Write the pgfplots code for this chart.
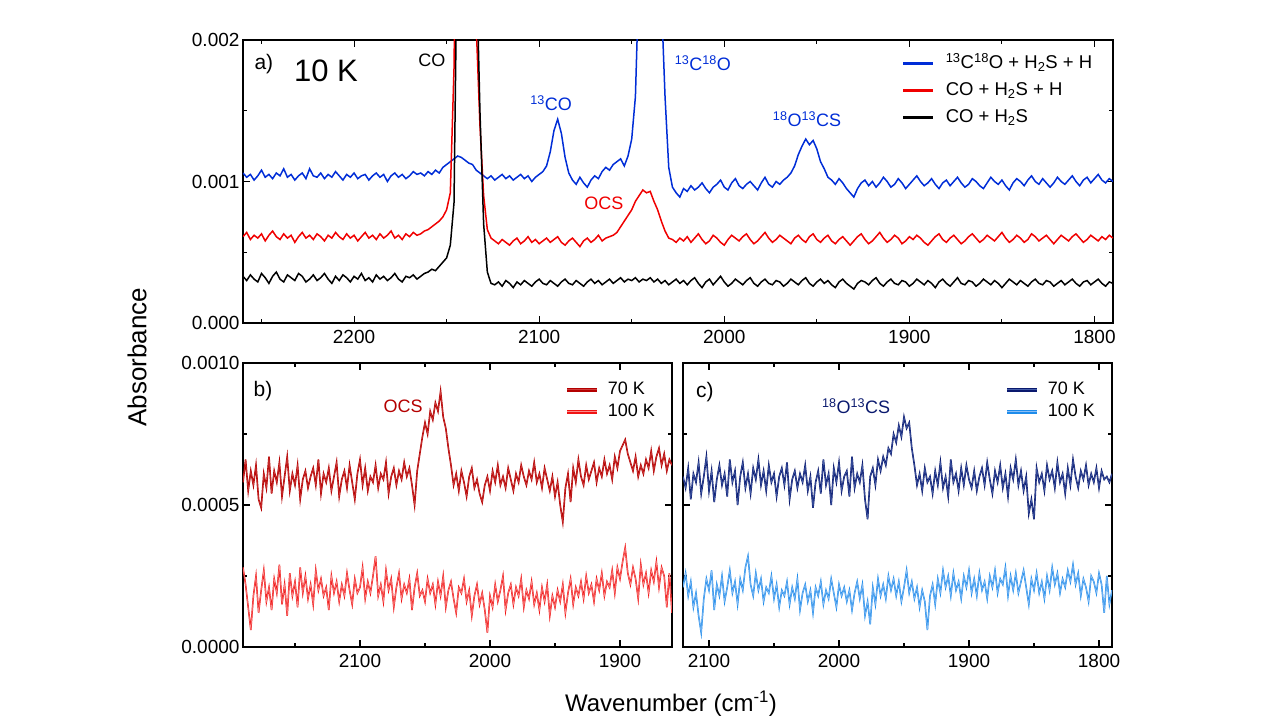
\documentclass[border=0pt]{standalone}
\usepackage{fontspec}
\setmainfont{Liberation Sans}
\usepackage{pgfplots}
\usepackage{pgfplotstable}
\pgfplotsset{compat=1.18}
\definecolor{cblue}{RGB}{0,45,215}
\definecolor{cred}{RGB}{240,0,0}
\definecolor{dred}{RGB}{180,0,0}
\definecolor{dredin}{RGB}{205,60,60}
\definecolor{lred}{RGB}{240,20,20}
\definecolor{lredin}{RGB}{250,140,140}
\definecolor{navy}{RGB}{10,25,110}
\definecolor{navyin}{RGB}{70,95,170}
\definecolor{lblue}{RGB}{30,140,235}
\definecolor{lbluein}{RGB}{140,190,245}

\pgfplotstableread{
x k r b
2260 0.00033 0.00061 0.00106
2258 0.00030 0.00064 0.00103
2256 0.00034 0.00059 0.00105
2254 0.00031 0.00062 0.00101
2252 0.00029 0.00060 0.00104
2250 0.00035 0.00063 0.00108
2248 0.00032 0.00058 0.00103
2246 0.00028 0.00062 0.00105
2244 0.00033 0.00065 0.00102
2242 0.00036 0.00061 0.00106
2240 0.00031 0.00059 0.00104
2238 0.00029 0.00063 0.00109
2236 0.00034 0.00060 0.00103
2234 0.00032 0.00062 0.00105
2232 0.00030 0.00057 0.00101
2230 0.00035 0.00061 0.00104
2228 0.00033 0.00064 0.00106
2226 0.00029 0.00060 0.00102
2224 0.00031 0.00062 0.00109
2222 0.00034 0.00059 0.00104
2220 0.00030 0.00063 0.00103
2218 0.00032 0.00061 0.00106
2216 0.00035 0.00058 0.00102
2214 0.00031 0.00062 0.00105
2212 0.00028 0.00060 0.00103
2210 0.00033 0.00064 0.00107
2208 0.00030 0.00061 0.00104
2206 0.00034 0.00059 0.00101
2204 0.00032 0.00063 0.00105
2202 0.00029 0.00060 0.00103
2200 0.00033 0.00062 0.00106
2198 0.00031 0.00058 0.00102
2196 0.00035 0.00061 0.00104
2194 0.00030 0.00064 0.00105
2192 0.00032 0.00060 0.00101
2190 0.00029 0.00062 0.00104
2188 0.00034 0.00059 0.00106
2186 0.00031 0.00063 0.00103
2184 0.00033 0.00060 0.00105
2182 0.00030 0.00062 0.00100
2180 0.00032 0.00065 0.00104
2178 0.00035 0.00060 0.00106
2176 0.00031 0.00062 0.00103
2174 0.00029 0.00059 0.00105
2172 0.00033 0.00063 0.00102
2170 0.00032 0.00061 0.00104
2168 0.00034 0.00064 0.00107
2166 0.00031 0.00062 0.00105
2164 0.00033 0.00063 0.00106
2162 0.00035 0.00065 0.00104
2160 0.00036 0.00066 0.00107
2158 0.00038 0.00068 0.00105
2156 0.00037 0.00070 0.00108
2154 0.00040 0.00072 0.00106
2152 0.00043 0.00075 0.00110
2150 0.00046 0.00080 0.00112
2148 0.00055 0.00092 0.00114
2146 0.00085 0.00180 0.00116
2144 0.00300 0.00400 0.00118
2142 0.00400 0.00400 0.00117
2140 0.00400 0.00400 0.00115
2138 0.00400 0.00400 0.00113
2136 0.00400 0.00380 0.00112
2134 0.00260 0.00210 0.00108
2132 0.00150 0.00140 0.00106
2130 0.00070 0.00090 0.00104
2128 0.00036 0.00066 0.00102
2126 0.00028 0.00060 0.00104
2124 0.00027 0.00058 0.00101
2122 0.00029 0.00056 0.00103
2120 0.00026 0.00059 0.00105
2118 0.00030 0.00057 0.00102
2116 0.00028 0.00055 0.00104
2114 0.00025 0.00058 0.00101
2112 0.00029 0.00060 0.00103
2110 0.00027 0.00056 0.00105
2108 0.00030 0.00058 0.00102
2106 0.00028 0.00061 0.00104
2104 0.00026 0.00057 0.00100
2102 0.00029 0.00059 0.00103
2100 0.00031 0.00056 0.00105
2098 0.00028 0.00058 0.00107
2096 0.00027 0.00060 0.00111
2094 0.00030 0.00057 0.00121
2092 0.00028 0.00059 0.00136
2090 0.00026 0.00061 0.00144
2088 0.00029 0.00057 0.00134
2086 0.00031 0.00055 0.00117
2084 0.00028 0.00058 0.00106
2082 0.00027 0.00060 0.00101
2080 0.00030 0.00057 0.00098
2078 0.00028 0.00054 0.00103
2076 0.00026 0.00058 0.00099
2074 0.00029 0.00060 0.00096
2072 0.00031 0.00057 0.00101
2070 0.00028 0.00059 0.00104
2068 0.00030 0.00062 0.00102
2066 0.00027 0.00058 0.00107
2064 0.00029 0.00060 0.00110
2062 0.00031 0.00061 0.00108
2060 0.00028 0.00062 0.00112
2058 0.00030 0.00064 0.00114
2056 0.00032 0.00068 0.00116
2054 0.00029 0.00072 0.00111
2052 0.00031 0.00076 0.00118
2050 0.00030 0.00080 0.00130
2048 0.00032 0.00086 0.00160
2046 0.00029 0.00090 0.00250
2044 0.00031 0.00094 0.00400
2042 0.00030 0.00092 0.00400
2040 0.00032 0.00093 0.00400
2038 0.00029 0.00086 0.00400
2036 0.00031 0.00080 0.00350
2034 0.00028 0.00072 0.00230
2032 0.00030 0.00065 0.00160
2030 0.00027 0.00060 0.00110
2028 0.00029 0.00059 0.00096
2026 0.00031 0.00057 0.00092
2024 0.00028 0.00060 0.00089
2022 0.00030 0.00058 0.00095
2020 0.00027 0.00061 0.00093
2018 0.00030 0.00057 0.00097
2016 0.00032 0.00060 0.00094
2014 0.00028 0.00063 0.00096
2012 0.00025 0.00059 0.00099
2010 0.00029 0.00056 0.00095
2008 0.00031 0.00058 0.00092
2006 0.00027 0.00062 0.00096
2004 0.00030 0.00060 0.00098
2002 0.00033 0.00057 0.00101
2000 0.00029 0.00055 0.00096
1998 0.00026 0.00059 0.00094
1996 0.00028 0.00062 0.00099
1994 0.00031 0.00060 0.00102
1992 0.00029 0.00058 0.00097
1990 0.00027 0.00061 0.00095
1988 0.00030 0.00063 0.00098
1986 0.00032 0.00059 0.00100
1984 0.00028 0.00056 0.00097
1982 0.00026 0.00058 0.00094
1980 0.00029 0.00061 0.00099
1978 0.00031 0.00064 0.00103
1976 0.00028 0.00060 0.00098
1974 0.00027 0.00057 0.00096
1972 0.00030 0.00059 0.00100
1970 0.00029 0.00062 0.00098
1968 0.00026 0.00060 0.00101
1966 0.00028 0.00058 0.00103
1964 0.00031 0.00056 0.00106
1962 0.00029 0.00060 0.00111
1960 0.00027 0.00062 0.00119
1958 0.00030 0.00059 0.00125
1956 0.00032 0.00057 0.00130
1954 0.00028 0.00061 0.00126
1952 0.00026 0.00063 0.00129
1950 0.00029 0.00059 0.00123
1948 0.00031 0.00057 0.00114
1946 0.00028 0.00060 0.00109
1944 0.00030 0.00062 0.00103
1942 0.00027 0.00058 0.00101
1940 0.00025 0.00056 0.00098
1938 0.00029 0.00059 0.00102
1936 0.00031 0.00061 0.00099
1934 0.00028 0.00058 0.00095
1932 0.00026 0.00055 0.00092
1930 0.00024 0.00058 0.00089
1928 0.00028 0.00061 0.00095
1926 0.00030 0.00063 0.00099
1924 0.00029 0.00059 0.00101
1922 0.00027 0.00056 0.00097
1920 0.00030 0.00058 0.00100
1918 0.00032 0.00061 0.00096
1916 0.00028 0.00064 0.00099
1914 0.00026 0.00060 0.00103
1912 0.00029 0.00057 0.00100
1910 0.00031 0.00059 0.00096
1908 0.00028 0.00062 0.00098
1906 0.00027 0.00060 0.00102
1904 0.00030 0.00056 0.00099
1902 0.00029 0.00058 0.00095
1900 0.00026 0.00061 0.00098
1898 0.00028 0.00059 0.00101
1896 0.00031 0.00062 0.00104
1894 0.00029 0.00060 0.00100
1892 0.00027 0.00057 0.00097
1890 0.00030 0.00055 0.00099
1888 0.00028 0.00058 0.00102
1886 0.00025 0.00061 0.00098
1884 0.00029 0.00063 0.00095
1882 0.00031 0.00059 0.00099
1880 0.00028 0.00057 0.00101
1878 0.00026 0.00060 0.00097
1876 0.00029 0.00062 0.00100
1874 0.00032 0.00059 0.00103
1872 0.00028 0.00056 0.00099
1870 0.00027 0.00058 0.00096
1868 0.00030 0.00061 0.00098
1866 0.00029 0.00063 0.00102
1864 0.00026 0.00060 0.00100
1862 0.00028 0.00057 0.00097
1860 0.00031 0.00059 0.00095
1858 0.00029 0.00062 0.00099
1856 0.00027 0.00060 0.00103
1854 0.00030 0.00058 0.00100
1852 0.00028 0.00061 0.00098
1850 0.00025 0.00064 0.00101
1848 0.00028 0.00060 0.00097
1846 0.00031 0.00057 0.00094
1844 0.00029 0.00059 0.00099
1842 0.00027 0.00062 0.00102
1840 0.00030 0.00060 0.00100
1838 0.00028 0.00057 0.00097
1836 0.00026 0.00059 0.00101
1834 0.00029 0.00063 0.00104
1832 0.00031 0.00061 0.00100
1830 0.00028 0.00058 0.00098
1828 0.00027 0.00060 0.00102
1826 0.00030 0.00062 0.00099
1824 0.00029 0.00059 0.00096
1822 0.00026 0.00056 0.00099
1820 0.00028 0.00059 0.00103
1818 0.00030 0.00062 0.00100
1816 0.00027 0.00060 0.00098
1814 0.00029 0.00058 0.00101
1812 0.00031 0.00061 0.00104
1810 0.00028 0.00063 0.00100
1808 0.00026 0.00060 0.00097
1806 0.00029 0.00057 0.00101
1804 0.00030 0.00059 0.00103
1802 0.00027 0.00062 0.00099
1800 0.00029 0.00060 0.00102
1798 0.00031 0.00058 0.00105
1796 0.00028 0.00061 0.00101
1794 0.00026 0.00059 0.00099
1792 0.00029 0.00062 0.00102
1790 0.00028 0.00060 0.00100
}\topdata

\pgfplotstableread{
x d l
2190 0.00058 0.00028
2188 0.00066 0.00022
2186 0.00055 0.00014
2184 0.00062 0.00006
2182 0.00057 0.00018
2180 0.00064 0.00025
2178 0.00052 0.00012
2176 0.00049 0.00020
2174 0.00061 0.00027
2172 0.00056 0.00016
2170 0.00067 0.00021
2168 0.00054 0.00013
2166 0.00062 0.00024
2164 0.00058 0.00019
2162 0.00065 0.00029
2160 0.00053 0.00015
2158 0.00060 0.00022
2156 0.00067 0.00011
2154 0.00055 0.00026
2152 0.00061 0.00018
2150 0.00057 0.00023
2148 0.00064 0.00014
2146 0.00052 0.00028
2144 0.00059 0.00019
2142 0.00062 0.00025
2140 0.00056 0.00017
2138 0.00060 0.00022
2136 0.00063 0.00015
2134 0.00057 0.00027
2132 0.00066 0.00020
2130 0.00054 0.00024
2128 0.00061 0.00018
2126 0.00058 0.00021
2124 0.00063 0.00013
2122 0.00055 0.00025
2120 0.00060 0.00019
2118 0.00065 0.00023
2116 0.00053 0.00016
2114 0.00059 0.00022
2112 0.00062 0.00018
2110 0.00056 0.00026
2108 0.00064 0.00020
2106 0.00058 0.00015
2104 0.00052 0.00024
2102 0.00061 0.00019
2100 0.00066 0.00021
2098 0.00057 0.00028
2096 0.00063 0.00017
2094 0.00055 0.00023
2092 0.00060 0.00019
2090 0.00058 0.00025
2088 0.00064 0.00032
2086 0.00056 0.00018
2084 0.00061 0.00022
2082 0.00059 0.00016
2080 0.00065 0.00027
2078 0.00054 0.00020
2076 0.00060 0.00024
2074 0.00063 0.00014
2072 0.00057 0.00021
2070 0.00062 0.00026
2068 0.00059 0.00017
2066 0.00065 0.00022
2064 0.00060 0.00019
2062 0.00063 0.00024
2060 0.00057 0.00013
2058 0.00050 0.00021
2056 0.00062 0.00026
2054 0.00068 0.00018
2052 0.00074 0.00020
2050 0.00079 0.00016
2048 0.00075 0.00024
2046 0.00083 0.00019
2044 0.00080 0.00022
2042 0.00086 0.00015
2040 0.00083 0.00023
2038 0.00090 0.00018
2036 0.00081 0.00025
2034 0.00077 0.00014
2032 0.00070 0.00020
2030 0.00064 0.00023
2028 0.00057 0.00017
2026 0.00061 0.00012
2024 0.00055 0.00021
2022 0.00062 0.00019
2020 0.00058 0.00024
2018 0.00053 0.00016
2016 0.00060 0.00020
2014 0.00063 0.00011
2012 0.00056 0.00018
2010 0.00059 0.00022
2008 0.00054 0.00015
2006 0.00051 0.00019
2004 0.00057 0.00013
2002 0.00060 0.00005
2000 0.00055 0.00018
1998 0.00062 0.00014
1996 0.00058 0.00022
1994 0.00064 0.00016
1992 0.00057 0.00020
1990 0.00060 0.00025
1988 0.00056 0.00013
1986 0.00063 0.00019
1984 0.00059 0.00022
1982 0.00055 0.00015
1980 0.00061 0.00021
1978 0.00058 0.00018
1976 0.00064 0.00024
1974 0.00060 0.00014
1972 0.00057 0.00020
1970 0.00062 0.00017
1968 0.00059 0.00023
1966 0.00065 0.00015
1964 0.00058 0.00019
1962 0.00061 0.00013
1960 0.00056 0.00021
1958 0.00063 0.00016
1956 0.00059 0.00022
1954 0.00055 0.00011
1952 0.00060 0.00018
1950 0.00053 0.00014
1948 0.00058 0.00020
1946 0.00050 0.00016
1944 0.00044 0.00022
1942 0.00056 0.00012
1940 0.00061 0.00019
1938 0.00051 0.00024
1936 0.00063 0.00015
1934 0.00058 0.00021
1932 0.00066 0.00018
1930 0.00060 0.00023
1928 0.00057 0.00017
1926 0.00064 0.00025
1924 0.00059 0.00019
1922 0.00062 0.00022
1920 0.00065 0.00016
1918 0.00058 0.00024
1916 0.00063 0.00020
1914 0.00060 0.00026
1912 0.00066 0.00018
1910 0.00061 0.00023
1908 0.00064 0.00021
1906 0.00059 0.00027
1904 0.00067 0.00019
1902 0.00063 0.00028
1900 0.00069 0.00024
1898 0.00071 0.00030
1896 0.00073 0.00035
1894 0.00068 0.00026
1892 0.00065 0.00022
1890 0.00062 0.00028
1888 0.00067 0.00024
1886 0.00060 0.00017
1884 0.00064 0.00029
1882 0.00061 0.00022
1880 0.00066 0.00026
1878 0.00063 0.00019
1876 0.00069 0.00027
1874 0.00062 0.00023
1872 0.00067 0.00030
1870 0.00070 0.00021
1868 0.00064 0.00028
1866 0.00068 0.00025
1864 0.00062 0.00014
1862 0.00066 0.00026
1860 0.00064 0.00012
}\bldata

\pgfplotstableread{
x n c
2120 0.00060 0.00021
2118 0.00056 0.00026
2116 0.00063 0.00018
2114 0.00052 0.00023
2112 0.00061 0.00014
2110 0.00058 0.00019
2108 0.00065 0.00011
2106 0.00054 0.00005
2104 0.00060 0.00017
2102 0.00067 0.00024
2100 0.00055 0.00020
2098 0.00062 0.00027
2096 0.00051 0.00013
2094 0.00059 0.00022
2092 0.00064 0.00018
2090 0.00057 0.00025
2088 0.00061 0.00016
2086 0.00053 0.00021
2084 0.00066 0.00027
2082 0.00058 0.00019
2080 0.00062 0.00023
2078 0.00050 0.00015
2076 0.00060 0.00024
2074 0.00065 0.00020
2072 0.00056 0.00028
2070 0.00061 0.00032
2068 0.00054 0.00022
2066 0.00063 0.00018
2064 0.00059 0.00026
2062 0.00066 0.00020
2060 0.00057 0.00024
2058 0.00062 0.00016
2056 0.00055 0.00021
2054 0.00064 0.00019
2052 0.00058 0.00025
2050 0.00061 0.00017
2048 0.00053 0.00022
2046 0.00060 0.00014
2044 0.00063 0.00020
2042 0.00057 0.00018
2040 0.00065 0.00023
2038 0.00052 0.00015
2036 0.00059 0.00021
2034 0.00062 0.00017
2032 0.00056 0.00024
2030 0.00061 0.00013
2028 0.00058 0.00019
2026 0.00064 0.00022
2024 0.00055 0.00016
2022 0.00060 0.00020
2020 0.00049 0.00012
2018 0.00058 0.00021
2016 0.00062 0.00018
2014 0.00054 0.00023
2012 0.00066 0.00015
2010 0.00057 0.00020
2008 0.00061 0.00017
2006 0.00050 0.00024
2004 0.00063 0.00019
2002 0.00058 0.00014
2000 0.00065 0.00022
1998 0.00055 0.00018
1996 0.00060 0.00021
1994 0.00062 0.00016
1992 0.00053 0.00020
1990 0.00067 0.00013
1988 0.00056 0.00019
1986 0.00061 0.00023
1984 0.00058 0.00017
1982 0.00064 0.00022
1980 0.00052 0.00011
1978 0.00045 0.00016
1976 0.00060 0.00008
1974 0.00063 0.00021
1972 0.00057 0.00015
1970 0.00066 0.00024
1968 0.00062 0.00018
1966 0.00067 0.00022
1964 0.00064 0.00017
1962 0.00070 0.00025
1960 0.00068 0.00020
1958 0.00075 0.00024
1956 0.00072 0.00018
1954 0.00078 0.00023
1952 0.00074 0.00016
1950 0.00081 0.00021
1948 0.00077 0.00027
1946 0.00079 0.00019
1944 0.00070 0.00023
1942 0.00064 0.00017
1940 0.00057 0.00021
1938 0.00061 0.00014
1936 0.00055 0.00020
1934 0.00063 0.00016
1932 0.00058 0.00006
1930 0.00060 0.00018
1928 0.00054 0.00022
1926 0.00062 0.00015
1924 0.00057 0.00024
1922 0.00065 0.00019
1920 0.00056 0.00027
1918 0.00060 0.00021
1916 0.00053 0.00025
1914 0.00066 0.00018
1912 0.00058 0.00026
1910 0.00061 0.00020
1908 0.00055 0.00023
1906 0.00063 0.00017
1904 0.00057 0.00025
1902 0.00064 0.00021
1900 0.00059 0.00027
1898 0.00056 0.00019
1896 0.00062 0.00024
1894 0.00055 0.00018
1892 0.00060 0.00026
1890 0.00063 0.00020
1888 0.00057 0.00023
1886 0.00065 0.00017
1884 0.00059 0.00025
1882 0.00054 0.00021
1880 0.00062 0.00027
1878 0.00058 0.00019
1876 0.00064 0.00024
1874 0.00056 0.00022
1872 0.00061 0.00028
1870 0.00053 0.00018
1868 0.00063 0.00025
1866 0.00059 0.00020
1864 0.00066 0.00026
1862 0.00057 0.00019
1860 0.00062 0.00023
1858 0.00055 0.00027
1856 0.00060 0.00021
1854 0.00047 0.00015
1852 0.00052 0.00024
1850 0.00045 0.00020
1848 0.00063 0.00026
1846 0.00058 0.00019
1844 0.00061 0.00023
1842 0.00055 0.00017
1840 0.00064 0.00025
1838 0.00059 0.00020
1836 0.00062 0.00028
1834 0.00056 0.00022
1832 0.00065 0.00026
1830 0.00058 0.00019
1828 0.00061 0.00024
1826 0.00054 0.00021
1824 0.00063 0.00027
1822 0.00057 0.00023
1820 0.00066 0.00029
1818 0.00060 0.00022
1816 0.00056 0.00026
1814 0.00062 0.00018
1812 0.00059 0.00024
1810 0.00064 0.00021
1808 0.00057 0.00016
1806 0.00061 0.00025
1804 0.00058 0.00023
1802 0.00063 0.00019
1800 0.00056 0.00026
1798 0.00062 0.00022
1796 0.00059 0.00012
1794 0.00060 0.00025
1792 0.00058 0.00015
1790 0.00061 0.00020
}\brdata

\pgfplotsset{
  panel/.style={
    scale only axis, x dir=reverse,
    tick align=inside, major tick length=7pt, minor tick length=4pt,
    axis line style={line width=1.1pt},
    tick style={line width=1.1pt, black},
    ticklabel style={font=\fontsize{19}{22}\selectfont},
    /pgf/number format/assume math mode=true,
    xticklabel style={/pgf/number format/1000 sep={}, yshift=-4pt},
    scaled y ticks=false,
    legend cell align=left,
    legend image code/.code={\draw[##1] (0pt,0pt) -- (30pt,0pt);},
  },
}
\tikzset{ann/.style={font=\fontsize{18}{21}\selectfont, inner sep=0pt}}

\begin{document}
\begin{tikzpicture}
\useasboundingbox (0pt,0pt) rectangle (1279pt,718pt);

% panel a
\begin{axis}[panel, at={(243pt,395pt)}, anchor=south west,
  width=870pt, height=283pt,
  xmin=1790, xmax=2260, ymin=0, ymax=0.002,
  xtick={1800,1900,2000,2100,2200}, minor xtick={1850,1950,2050,2150,2250},
  ytick={0,0.001,0.002}, minor ytick={0.0005,0.0015},
  yticklabel style={/pgf/number format/.cd, fixed, precision=3, fixed zerofill},
  legend image code/.code={\draw[#1, line width=3pt] (0pt,0pt) -- (30pt,0pt);},
  legend style={at={(0.757,0.95)}, anchor=north west, draw=none, fill=none,
    inner sep=0pt, row sep=8pt, column sep=10pt,
    font=\fontsize{18.5}{21}\selectfont,
    nodes={inner sep=1pt, text height=13pt, text depth=4pt}},
]
\addplot[cblue, line width=1.5pt] table[x=x, y=b] {\topdata};
\addlegendentry{\textsuperscript{13}C\textsuperscript{18}O + H\textsubscript{2}S + H}
\addplot[cred, line width=1.5pt] table[x=x, y=r] {\topdata};
\addlegendentry{CO + H\textsubscript{2}S + H}
\addplot[black, line width=1.5pt] table[x=x, y=k] {\topdata};
\addlegendentry{CO + H\textsubscript{2}S}
\node[ann, font=\fontsize{21}{24}\selectfont] at (axis cs:2248.7,0.00183) {a)};
\node[ann, font=\fontsize{31}{34}\selectfont] at (axis cs:2215.2,0.00178) {10 K};
\node[ann] at (axis cs:2157.9,0.00186) {CO};
\node[ann, text=cblue] at (axis cs:2093.6,0.001555) {\textsuperscript{13}CO};
\node[ann, text=cblue] at (axis cs:2011.5,0.001837) {\textsuperscript{13}C\textsuperscript{18}O};
\node[ann, text=cblue] at (axis cs:1955.3,0.001442) {\textsuperscript{18}O\textsuperscript{13}CS};
\node[ann, text=cred] at (axis cs:2065.0,0.000848) {OCS};
\end{axis}

% panel b
\begin{axis}[panel, at={(243pt,71pt)}, anchor=south west,
  width=429pt, height=284pt,
  xmin=1860, xmax=2190, ymin=0, ymax=0.001,
  xtick={1900,2000,2100}, minor xtick={1950,2050,2150},
  ytick={0,0.0005,0.001}, minor ytick={0.00025,0.00075},
  yticklabel style={/pgf/number format/.cd, fixed, precision=4, fixed zerofill},
  legend style={at={(0.7506,0.94)}, anchor=north west, draw=none, fill=none,
    inner sep=0pt, row sep=3pt, column sep=8pt,
    font=\fontsize{18}{21}\selectfont,
    nodes={inner sep=1pt, text height=13pt, text depth=4pt}},
]
\addplot[draw=dredin, line width=0.5pt, preaction={draw=dred, line width=1.6pt}, forget plot] table[x=x, y=d] {\bldata};
\addplot[draw=lredin, line width=0.5pt, preaction={draw=lred, line width=1.5pt}, forget plot] table[x=x, y=l] {\bldata};
\addlegendimage{draw=dredin, line width=1.3pt, preaction={draw=dred, line width=3.6pt}}
\addlegendentry{70 K}
\addlegendimage{draw=lredin, line width=1.3pt, preaction={draw=lred, line width=3.6pt}}
\addlegendentry{100 K}
\node[ann, font=\fontsize{21}{24}\selectfont] at (axis cs:2174.6,0.000901) {b)};
\node[ann, text=dred] at (axis cs:2066.9,0.000849) {OCS};
\end{axis}

% panel c
\begin{axis}[panel, at={(683pt,71pt)}, anchor=south west,
  width=429pt, height=284pt,
  xmin=1790, xmax=2120, ymin=0, ymax=0.001,
  xtick={1800,1900,2000,2100}, minor xtick={1850,1950,2050},
  ytick={0,0.0005,0.001}, minor ytick={0.00025,0.00075},
  yticklabels={},
  legend style={at={(0.7506,0.94)}, anchor=north west, draw=none, fill=none,
    inner sep=0pt, row sep=3pt, column sep=8pt,
    font=\fontsize{18}{21}\selectfont,
    nodes={inner sep=1pt, text height=13pt, text depth=4pt}},
]
\addplot[draw=navyin, line width=0.5pt, preaction={draw=navy, line width=1.6pt}, forget plot] table[x=x, y=n] {\brdata};
\addplot[draw=lbluein, line width=0.5pt, preaction={draw=lblue, line width=1.5pt}, forget plot] table[x=x, y=c] {\brdata};
\addlegendimage{draw=navyin, line width=1.3pt, preaction={draw=navy, line width=3.6pt}}
\addlegendentry{70 K}
\addlegendimage{draw=lbluein, line width=1.3pt, preaction={draw=lblue, line width=3.6pt}}
\addlegendentry{100 K}
\node[ann, font=\fontsize{21}{24}\selectfont] at (axis cs:2103.1,0.000898) {c)};
\node[ann, text=navy] at (axis cs:1986.9,0.000849) {\textsuperscript{18}O\textsuperscript{13}CS};
\end{axis}

\node[rotate=90, font=\fontsize{26}{30}\selectfont] at (137pt,361pt) {Absorbance};
\node[font=\fontsize{24}{28}\selectfont] at (671pt,14pt) {Wavenumber (cm\textsuperscript{-1})};
\end{tikzpicture}
\end{document}
